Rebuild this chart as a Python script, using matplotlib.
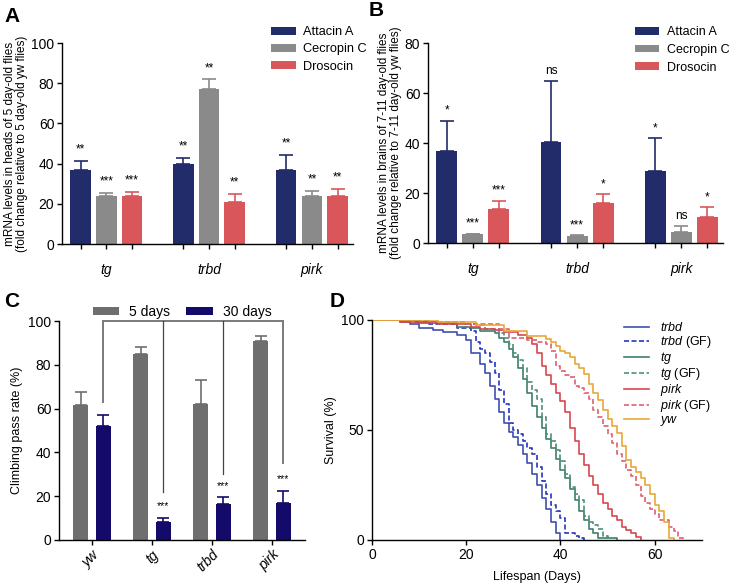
import matplotlib
matplotlib.use("Agg")
import matplotlib.pyplot as plt
import numpy as np

plt.rcParams['font.family'] = ['Liberation Sans', 'DejaVu Sans']
plt.rcParams['mathtext.fontset'] = 'custom'
plt.rcParams['mathtext.it'] = 'Liberation Sans:italic'
plt.rcParams['mathtext.rm'] = 'Liberation Sans'
plt.rcParams['axes.linewidth'] = 1.0

# ---- data ----
genotypes = ['tg', 'trbd', 'pirk']
amps = ['Attacin A', 'Cecropin C', 'Drosocin']
amp_colors = ['#222c6a', '#8a8a8a', '#d9575a']

heads_mean = [[37, 40, 37], [24, 77, 24], [24, 21, 24]]
heads_err = [[4.5, 3, 7.5], [1.5, 5, 2.5], [2, 4, 3.5]]
heads_sig = [['**', '**', '**'], ['***', '**', '**'], ['***', '**', '**']]

brains_mean = [[37, 40.5, 29], [3.5, 3, 4.5], [13.5, 16, 10.5]]
brains_err = [[12, 24.5, 13], [0.3, 0.3, 2.5], [3.5, 3.5, 4]]
brains_sig = [['*', 'ns', '*'], ['***', '***', 'ns'], ['***', '*', '*']]

climb_lines = ['yw', 'tg', 'trbd', 'pirk']
climb_5d = [61.5, 85, 62, 91]
climb_5d_err = [6, 3, 11, 2]
climb_30d = [52, 8, 16.5, 17]
climb_30d_err = [5, 2, 3, 5.5]
climb_sig = ['', '***', '***', '***']
bracket_low = [63, 22, 30, 35]

trbd_days = [0, 6, 8, 10, 13, 15, 18, 20, 21, 23, 24, 25, 26, 27, 28, 29, 30, 31, 32, 33, 34, 35, 36, 37, 38, 39, 40]
trbd_surv = [100, 99, 98, 96.5, 95.5, 94.5, 93, 91, 85, 80, 76, 70, 64, 58, 53, 49, 47, 43, 39, 35, 30, 25, 19, 14, 8, 3, 0]
trbdgf_days = [0, 9, 12, 18, 21, 22, 23, 24, 25, 26, 27, 28, 29, 30, 31, 32, 33, 34, 35, 36, 37, 38, 39, 40, 41, 43, 44, 45]
trbdgf_surv = [100, 99, 98, 96.5, 95, 90, 87, 85, 81, 76, 68, 62, 53, 50, 48, 45, 42, 39, 33, 27, 21, 16, 13, 10, 3, 2, 1, 0]
tg_days = [0, 10, 18, 21, 23, 26, 27, 28, 29, 30, 31, 32, 33, 34, 35, 36, 37, 38, 39, 40, 41, 42, 43, 44, 45, 46, 47, 48, 52]
tg_surv = [100, 98.5, 97, 96.5, 95, 94, 92, 90, 87, 83, 78, 73, 67, 61, 56, 51, 46, 42, 37, 32, 28, 23, 18, 13, 9, 5, 3, 1, 0]
tggf_days = [0, 12, 20, 22, 24, 27, 28, 29, 30, 31, 32, 33, 34, 35, 36, 37, 38, 39, 40, 41, 42, 43, 44, 45, 46, 47, 48, 49, 50]
tggf_surv = [100, 99, 98, 97.5, 96, 94, 92, 89, 85, 82, 78, 72, 68, 64, 56, 48, 45, 41, 36, 30, 24, 21, 18, 11, 8, 7, 5, 2, 0]
pirk_days = [0, 6, 14, 21, 23, 26, 28, 31, 33, 34, 35, 36, 37, 38, 39, 40, 41, 42, 43, 44, 45, 46, 47, 48, 49, 50, 51, 52, 53, 54, 55, 56, 57]
pirk_surv = [100, 99, 98, 97, 96, 95.5, 94.5, 93, 92, 89, 85, 79, 75, 71, 67, 63, 58, 51, 45, 39, 34, 29, 25, 21, 17, 14, 11, 9, 6, 4.5, 3, 1.5, 0]
pirkgf_days = [0, 12, 20, 27, 29, 33, 35, 37, 38, 39, 40, 41, 42, 43, 44, 45, 46, 47, 48, 49, 50, 51, 52, 53, 54, 55, 56, 57, 58, 59, 60, 61, 63, 64, 65, 66]
pirkgf_surv = [100, 99, 98, 96, 92, 91, 90, 89, 86, 79, 77, 75, 74, 70, 69, 67, 64, 59, 56, 52, 48, 44, 39, 36, 32, 29, 25, 20, 17, 14, 12, 9, 6, 4, 1, 0]
yw_days = [0, 14, 22, 28, 33, 37, 38, 39, 40, 41, 42, 43, 44, 45, 46, 47, 48, 49, 50, 51, 52, 53, 54, 55, 56, 57, 58, 59, 60, 61, 62, 63, 64]
yw_surv = [100, 99, 97.5, 95, 92.5, 91.5, 90, 88, 86, 85, 83, 80, 78, 75.5, 71, 67, 63.5, 59, 55, 52, 48.5, 42.5, 36.5, 33, 31, 28, 25, 21, 16, 13, 8, 1, 0]

fig = plt.figure(figsize=(7.33, 5.87), dpi=100)


def style(ax):
    ax.spines['top'].set_visible(False)
    ax.spines['right'].set_visible(False)
    ax.tick_params(labelsize=10, length=3.5, width=1, pad=2)


def amp_panel(ax, means, errs, sigs, ymax, ylabel, off):
    x = np.arange(len(genotypes))
    for i in range(3):
        pos = x + (i - 1) * 0.25
        ax.bar(pos, means[i], 0.2, color=amp_colors[i], label=amps[i], zorder=2)
        ax.errorbar(pos, means[i], yerr=[np.zeros(3), errs[i]], fmt='none',
                    ecolor=amp_colors[i], elinewidth=1.2, capsize=5, capthick=1.2, zorder=1)
        for p, m, e, s in zip(pos, means[i], errs[i], sigs[i]):
            ax.text(p, m + e + off, s, ha='center', va='bottom', fontsize=8.5)
    style(ax)
    ax.set_ylim(0, ymax)
    ax.set_xlim(-0.43, 2.4)
    ax.xaxis.remove_overlapping_locs = False
    allpos = np.sort(np.concatenate([x - 0.25, x, x + 0.25]))
    ax.set_xticks(allpos)
    ax.set_xticklabels([])
    ax.set_xticks(x, genotypes, minor=True)
    ax.tick_params(axis='x', which='minor', length=0, pad=14, labelsize=10)
    for t in ax.get_xticklabels(minor=True):
        t.set_fontstyle('italic')
    ax.set_ylabel(ylabel, fontsize=8.5, linespacing=1.05, labelpad=2)


axA = fig.add_axes([0.0846, 0.5843, 0.397, 0.3424])
amp_panel(axA, heads_mean, heads_err, heads_sig, 100,
          'mRNA levels in heads of 5 day-old flies\n(fold change relative to 5 day-old yw flies)', 2.5)
axA.set_yticks(range(0, 101, 20))
axA.legend(loc='upper left', bbox_to_anchor=(0.68, 1.14), frameon=False, fontsize=9.2,
           handlelength=1.9, handleheight=0.55, labelspacing=0.4, handletextpad=0.6)

axB = fig.add_axes([0.5839, 0.586, 0.4025, 0.3407])
amp_panel(axB, brains_mean, brains_err, brains_sig, 80,
          'mRNA levels in brains of 7-11 day-old flies\n(fold change relative to 7-11 day-old yw flies)', 1.5)
axB.set_yticks(range(0, 81, 20))
axB.legend(loc='upper left', bbox_to_anchor=(0.665, 1.14), frameon=False, fontsize=9,
           handlelength=1.9, handleheight=0.55, labelspacing=0.45, handletextpad=0.6)

# ---- C ----
axC = fig.add_axes([0.0805, 0.0801, 0.3356, 0.373])
xc = np.arange(len(climb_lines))
axC.bar(xc - 0.19, climb_5d, 0.25, color='#6e6e6e', label='5 days', zorder=2)
axC.errorbar(xc - 0.19, climb_5d, yerr=[np.zeros(4), climb_5d_err], fmt='none',
             ecolor='#6e6e6e', elinewidth=1.2, capsize=4, capthick=1.2, zorder=1)
axC.bar(xc + 0.19, climb_30d, 0.25, color='#140a6a', label='30 days', zorder=2)
axC.errorbar(xc + 0.19, climb_30d, yerr=[np.zeros(4), climb_30d_err], fmt='none',
             ecolor='#140a6a', elinewidth=1.2, capsize=4, capthick=1.2, zorder=1)
axC.plot([xc[0] + 0.19, xc[-1] + 0.19], [100, 100], color='#7a7a7a', lw=1.4, clip_on=False)
for i, (lo, s) in enumerate(zip(bracket_low, climb_sig)):
    lw, col = (1.4, '#7a7a7a') if i in (0, 3) else (0.9, '#444444')
    axC.plot([xc[i] + 0.19] * 2, [lo, 100], color=col, lw=lw, clip_on=False)
    if s:
        axC.text(xc[i] + 0.19, climb_30d[i] + climb_30d_err[i] + 3, s, ha='center',
                 va='bottom', fontsize=7.5)
style(axC)
axC.set_ylim(0, 100)
axC.set_xlim(-0.55, 3.55)
axC.set_yticks(range(0, 101, 20))
axC.set_xticks(xc)
axC.set_xticklabels(climb_lines, rotation=45, ha='right', rotation_mode='anchor',
                    fontstyle='italic', fontsize=10)
axC.set_ylabel('Climbing pass rate (%)', fontsize=9)
axC.legend(loc='lower center', bbox_to_anchor=(0.5, 0.985), ncol=2, frameon=False,
           fontsize=10, handlelength=1.9, handleheight=0.55, columnspacing=1.2,
           handletextpad=0.7, borderaxespad=0)

# ---- D ----
axD = fig.add_axes([0.5075, 0.0801, 0.450, 0.3748])
curves = [
    (trbd_days, trbd_surv, '#3d4fb0', '-', r'$\it{trbd}$'),
    (trbdgf_days, trbdgf_surv, '#2535c0', (0, (3, 1.5)), r'$\it{trbd}$ (GF)'),
    (tg_days, tg_surv, '#3f7f6c', '-', r'$\it{tg}$'),
    (tggf_days, tggf_surv, '#4f8f7c', (0, (3, 1.5)), r'$\it{tg}$ (GF)'),
    (pirk_days, pirk_surv, '#d9474f', '-', r'$\it{pirk}$'),
    (pirkgf_days, pirkgf_surv, '#de6070', (0, (3, 1.5)), r'$\it{pirk}$ (GF)'),
    (yw_days, yw_surv, '#e8a838', '-', r'$\it{yw}$'),
]
for d, s, c, ls, lab in curves:
    axD.step(d, s, where='post', color=c, ls=ls, lw=1.2, label=lab)
style(axD)
axD.set_xlim(0, 70)
axD.set_ylim(0, 100)
axD.set_xticks([0, 20, 40, 60])
axD.set_yticks([0, 50, 100])
axD.set_ylabel('Survival (%)', fontsize=9, labelpad=3)
axD.set_xlabel('Lifespan (Days)', fontsize=9, labelpad=7)
axD.legend(loc='upper left', bbox_to_anchor=(0.73, 1.045), frameon=False, fontsize=9,
           handlelength=2.0, labelspacing=0.0, handletextpad=0.9)

for lab, x, y in [('A', 0.006, 0.988), ('B', 0.503, 0.998), ('C', 0.006, 0.502), ('D', 0.45, 0.502)]:
    fig.text(x, y, lab, fontsize=15, fontweight='bold', va='top', ha='left')

fig.savefig('out.png', dpi=100)
